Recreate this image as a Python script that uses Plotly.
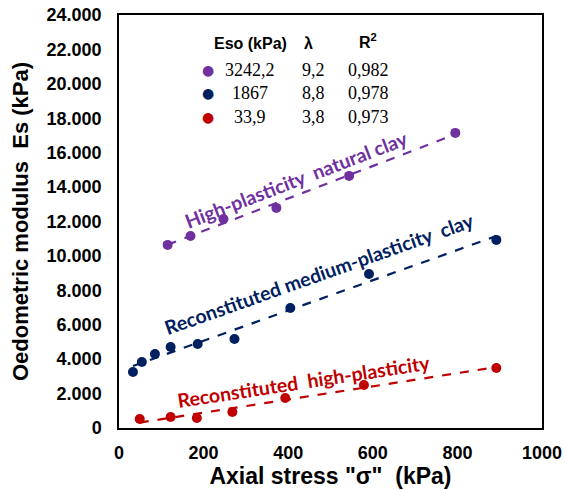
import numpy as np
import plotly.graph_objects as go

# Data
x_nat = [115, 169, 247, 372, 544, 795]
y_nat = [10640, 11160, 12150, 12790, 14650, 17150]
x_med = [33, 54, 85, 122, 186, 273, 405, 591, 892]
y_med = [3256, 3837, 4302, 4709, 4884, 5174, 6977, 8953, 10930]
x_high = [49, 122, 184, 268, 393, 579, 892]
y_high = [523, 640, 581, 930, 1744, 2500, 3488]

series_names = ["High-plasticity  natural clay", "Reconstituted medium-plasticity  clay", "Reconstituted  high-plasticity"]
colors = ["#7030A0", "#002060", "#C00000"]
eso = ["3242,2", "1867", "33,9"]
lam = ["9,2", "8,8", "3,8"]
r2 = ["0,982", "0,978", "0,973"]

y_tickvals = list(range(0, 24001, 2000))
y_ticktext = ["0"] + [f"{v//1000}.000" for v in y_tickvals[1:]]
x_tickvals = [0, 200, 400, 600, 800, 1000]

fig = go.Figure()
datasets = [(x_nat, y_nat), (x_med, y_med), (x_high, y_high)]
for (xs, ys), c in zip(datasets, colors):
    xs_a = np.array(xs, float); ys_a = np.array(ys, float)
    m, b = np.polyfit(xs_a, ys_a, 1)
    xl = np.array([xs_a.min(), xs_a.max()])
    fig.add_trace(go.Scatter(x=xl, y=m * xl + b, mode="lines",
                             line=dict(color=c, width=2.2, dash="dash"),
                             showlegend=False, hoverinfo="skip"))
    fig.add_trace(go.Scatter(x=xs, y=ys, mode="markers",
                             marker=dict(color=c, size=10), showlegend=False))

ann = []
# Rotated series labels (data coords)
label_pos = [(419, 14420, -21), (475, 8950, -19.5), (435, 2730, -8.7)]
for name, c, (lx, ly, ang) in zip(series_names, colors, label_pos):
    ann.append(dict(x=lx, y=ly, xref="x", yref="y", text=name, showarrow=False,
                    xanchor="center", yanchor="middle",
                    textangle=ang, font=dict(family="Lato", size=19.5, color=c, weight="bold")))

# Table legend
hdr_y = 0.932
hfont = dict(family="Liberation Sans", size=16, color="black", weight="bold")
def add(x, y, text, font):
    ann.append(dict(x=x, y=y, xref="paper", yref="paper", text=text, showarrow=False,
                    xanchor="center", yanchor="middle", font=font))
add(0.310, hdr_y, "Eso (kPa)", hfont)
add(0.449, hdr_y, "λ", hfont)
add(0.589, hdr_y + 0.005, "R<sup>2</sup>", hfont)
row_y = [0.867, 0.811, 0.753]
vfont = dict(family="Liberation Serif", size=18, color="black")
for i in range(3):
    add(0.210, row_y[i], "●", dict(family="DejaVu Sans", size=14, color=colors[i]))
    add(0.310, row_y[i], eso[i], vfont)
    add(0.459, row_y[i], lam[i], vfont)
    add(0.589, row_y[i], r2[i], vfont)

tickfont = dict(family="Liberation Sans", size=18, color="black", weight="bold")
fig.update_layout(
    width=564, height=490,
    margin=dict(l=119, r=22, t=15, b=62),
    plot_bgcolor="white", paper_bgcolor="white",
    annotations=ann,
    xaxis=dict(range=[0, 1000], tickvals=x_tickvals, showgrid=False, zeroline=False,
               showline=True, linecolor="black", linewidth=1.5, mirror=True,
               ticks="", tickfont=tickfont, ticklabelstandoff=8, automargin=False,
               title=dict(text='Axial stress "σ"  (kPa)', standoff=6,
                          font=dict(family="Liberation Sans", size=23, color="black", weight="bold"))),
    yaxis=dict(range=[0, 24000], tickvals=y_tickvals, ticktext=y_ticktext, showgrid=False, zeroline=False,
               showline=True, linecolor="black", linewidth=1.5, mirror=True,
               ticks="", tickfont=tickfont, ticklabelstandoff=12, automargin=False,
               title=dict(text="Oedometric modulus  Es (kPa)", standoff=12,
                          font=dict(family="Liberation Sans", size=22, color="black", weight="bold"))),
)
fig.write_html("out.html")
